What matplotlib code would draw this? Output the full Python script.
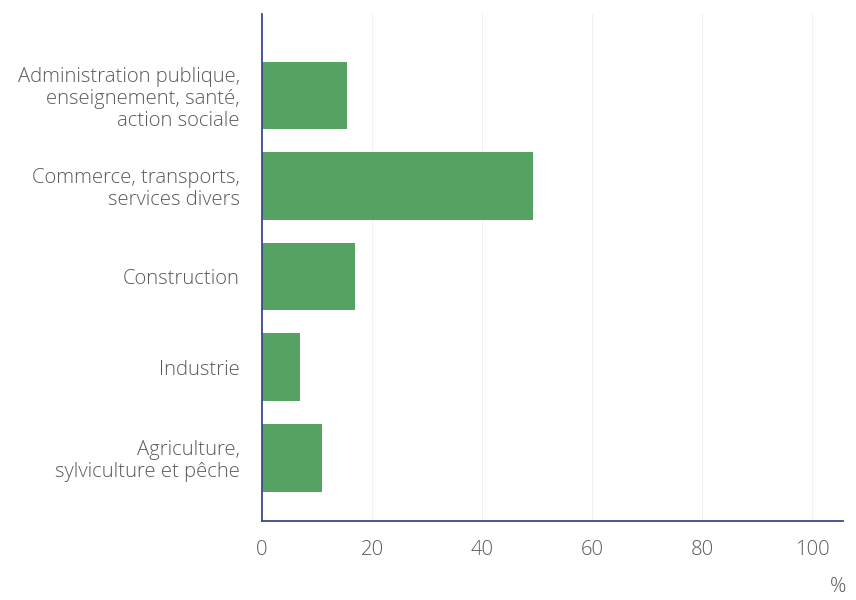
import matplotlib
matplotlib.use("Agg")
import matplotlib.pyplot as plt

plt.rcParams['font.family'] = ['Open Sans', 'DejaVu Sans']

categories = [
    "Administration publique,\nenseignement, santé,\naction sociale",
    "Commerce, transports,\nservices divers",
    "Construction",
    "Industrie",
    "Agriculture,\nsylviculture et pêche",
]
values = [15.5, 49.3, 16.9, 6.9, 10.9]
xticks = [0, 20, 40, 60, 80, 100]

bar_color = "#55a263"
axis_color = "#3b4a8c"
text_color = "#5a5a5a"
fsize = 14.6

fig = plt.figure(figsize=(8.56, 6), dpi=100)
ax = fig.add_axes([0.306, 0.1317, 0.679, 0.845])

pos = list(range(len(categories)))
ax.barh(pos, values, height=0.75, color=bar_color, zorder=3)

ax.set_ylim(len(categories) - 1 + 0.70, -0.90)
ax.set_xlim(0, 105.6)

ax.set_yticks(pos)
ax.set_yticklabels(categories, fontsize=fsize, color=text_color, linespacing=1.13,
                   fontweight="light")
ax.set_xticks(xticks)
ax.set_xticklabels([str(t) for t in xticks], fontsize=fsize, color=text_color,
                   fontweight="light")
ax.tick_params(axis="both", length=0)
ax.tick_params(axis="x", pad=14)
ax.tick_params(axis="y", pad=16)

for t in xticks[1:]:
    ax.axvline(t, color="#f0f0f0", lw=0.8, zorder=1)

for s in ["top", "right"]:
    ax.spines[s].set_visible(False)
ax.spines["left"].set_color(axis_color)
ax.spines["bottom"].set_color(axis_color)
ax.spines["left"].set_linewidth(1.3)
ax.spines["bottom"].set_linewidth(1.3)
ax.spines["left"].set_zorder(4)

fig.text(838 / 856, 1 - 587 / 600, "%", fontsize=fsize, color=text_color,
         ha="center", va="center", fontweight="light")

fig.savefig("out.png", dpi=100, facecolor="white")
